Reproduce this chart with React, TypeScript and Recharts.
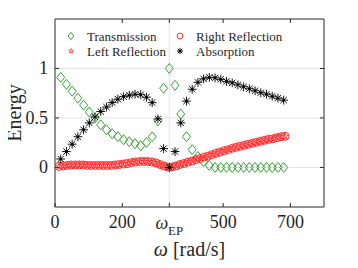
import React from 'react';
import { ScatterChart, Scatter, XAxis, YAxis, ReferenceLine, ReferenceArea } from 'recharts';

const omega = [17, 34, 51, 68, 85, 102, 119, 136, 153, 170, 187, 204, 221, 238, 255, 272, 289, 306, 323, 340, 357, 374, 391, 408, 425, 442, 459, 476, 493, 510, 527, 544, 561, 578, 595, 612, 629, 646, 663, 680];
const transmission = [0.91, 0.84, 0.77, 0.70, 0.63, 0.56, 0.50, 0.43, 0.38, 0.34, 0.31, 0.28, 0.26, 0.24, 0.22, 0.25, 0.31, 0.47, 0.80, 1.0, 0.83, 0.54, 0.31, 0.18, 0.11, 0.06, 0.02, 0.0, 0.0, 0.0, 0.0, 0.0, 0.0, 0.0, 0.0, 0.0, 0.0, 0.0, 0.0, 0.0];
const absorption = [0.085, 0.16, 0.235, 0.31, 0.38, 0.45, 0.51, 0.565, 0.61, 0.655, 0.69, 0.715, 0.73, 0.74, 0.735, 0.71, 0.655, 0.49, 0.19, 0.0, 0.16, 0.45, 0.67, 0.79, 0.86, 0.895, 0.91, 0.905, 0.89, 0.87, 0.855, 0.835, 0.815, 0.795, 0.775, 0.755, 0.74, 0.72, 0.70, 0.68];

const omegaR = [12, 24, 36, 48, 60, 72, 84, 96, 108, 120, 132, 144, 156, 168, 180, 192, 204, 216, 228, 240, 252, 264, 276, 288, 300, 312, 324, 336, 348, 360, 372, 384, 396, 408, 420, 432, 444, 456, 468, 480, 492, 504, 516, 528, 540, 552, 564, 576, 588, 600, 612, 624, 636, 648, 660, 672, 684];
const leftReflection = [0.01, 0.015, 0.02, 0.025, 0.025, 0.025, 0.025, 0.02, 0.02, 0.02, 0.02, 0.02, 0.02, 0.02, 0.025, 0.03, 0.035, 0.04, 0.05, 0.055, 0.06, 0.06, 0.06, 0.055, 0.045, 0.03, 0.015, 0.003, 0.005, 0.015, 0.03, 0.04, 0.055, 0.065, 0.08, 0.09, 0.105, 0.115, 0.13, 0.145, 0.155, 0.17, 0.18, 0.195, 0.205, 0.215, 0.225, 0.235, 0.245, 0.255, 0.265, 0.275, 0.285, 0.29, 0.30, 0.31, 0.315];
const rightReflection = [0.01, 0.015, 0.02, 0.025, 0.025, 0.025, 0.025, 0.02, 0.02, 0.02, 0.02, 0.02, 0.02, 0.02, 0.025, 0.03, 0.035, 0.04, 0.05, 0.055, 0.06, 0.06, 0.06, 0.055, 0.045, 0.03, 0.015, 0.003, 0.005, 0.015, 0.03, 0.04, 0.055, 0.065, 0.08, 0.09, 0.105, 0.115, 0.13, 0.145, 0.155, 0.17, 0.18, 0.195, 0.205, 0.215, 0.225, 0.235, 0.245, 0.255, 0.265, 0.275, 0.285, 0.29, 0.30, 0.31, 0.315];

const xTicks = [0, 200, 340, 500, 700];
const yTicks = [0, 0.5, 1];
const xDomain = [0, 800];
const yDomain = [-0.4, 1.5];
const EP = 340;
const seriesNames = ['Transmission', 'Left Reflection', 'Right Reflection', 'Absorption'];

const FONT = "'Liberation Serif', 'Times New Roman', serif";
const AX = '#262626';
const GREEN = '#35a035';
const RED = '#ff2a2a';
const GRID = '#e3e3e3';

const mk = (xs: number[], vals: number[]) => xs.map((w, i) => ({ w, v: vals[i] }));

const Diamond = (p: any) => {
  const { cx, cy } = p;
  const a = p.s ?? 1;
  return <path d={`M${cx},${cy - 5 * a}L${cx + 4 * a},${cy}L${cx},${cy + 5 * a}L${cx - 4 * a},${cy}Z`} fill="none" stroke={GREEN} strokeWidth={1} />;
};
const Ring = (p: any) => <circle cx={p.cx} cy={p.cy} r={4 * (p.s ?? 1)} fill="none" stroke={RED} strokeWidth={1} />;
const Star = (p: any) => {
  const { cx, cy } = p;
  const a = p.s ?? 1;
  const pts: string[] = [];
  for (let i = 0; i < 10; i++) {
    const r = (i % 2 === 0 ? 3.4 : 1.4) * a;
    const t = -Math.PI / 2 + (i * Math.PI) / 5;
    pts.push(`${cx + r * Math.cos(t)},${cy + r * Math.sin(t)}`);
  }
  return <polygon points={pts.join(' ')} fill="none" stroke={RED} strokeWidth={0.8} />;
};
const Aster = (p: any) => {
  const { cx, cy } = p;
  const r = 4.4 * (p.s ?? 1);
  const d = r * 0.72;
  return (
    <g stroke="#111" strokeWidth={1}>
      <line x1={cx - r} y1={cy} x2={cx + r} y2={cy} />
      <line x1={cx} y1={cy - r} x2={cx} y2={cy + r} />
      <line x1={cx - d} y1={cy - d} x2={cx + d} y2={cy + d} />
      <line x1={cx - d} y1={cy + d} x2={cx + d} y2={cy - d} />
      <circle cx={cx} cy={cy} r={1.3} fill="#000" stroke="none" />
    </g>
  );
};

const txt = (size: number, italic = false): React.CSSProperties => ({ fontFamily: FONT, fontSize: size, fontStyle: italic ? 'italic' : 'normal' });

const BottomTick = (props: any) => {
  const { x, y, payload } = props;
  const v = payload.value;
  return (
    <g>
      <line x1={x} x2={x} y1={y} y2={y - 4} stroke={AX} />
      {v === EP ? (
        <text x={x} y={y + 22} textAnchor="middle" style={txt(18)} fill={AX}>
          <tspan style={txt(18, true)}>ω</tspan>
          <tspan style={txt(13)} dy={6}>EP</tspan>
        </text>
      ) : (
        <text x={x} y={y + 21} textAnchor="middle" style={txt(18)} fill={AX}>{v}</text>
      )}
    </g>
  );
};
const LeftTick = (props: any) => {
  const { x, y, payload } = props;
  return (
    <g>
      <line x1={x} x2={x + 4} y1={y} y2={y} stroke={AX} />
      <text x={x - 7} y={y + 6} textAnchor="end" style={txt(18)} fill={AX}>{payload.value}</text>
    </g>
  );
};

const XLabel = (props: any) => {
  const vb = props.viewBox || {};
  return (
    <text x={vb.x + vb.width / 2} y={vb.y + 49} textAnchor="middle" style={txt(20)} fill={AX}>
      <tspan style={txt(20, true)}>ω</tspan>
      <tspan style={txt(20)}> [rad/s]</tspan>
    </text>
  );
};
const YLabel = (props: any) => {
  const vb = props.viewBox || {};
  const cy = vb.y + vb.height / 2;
  return (
    <text transform={`translate(21, ${cy}) rotate(-90)`} x={0} y={0} textAnchor="middle" style={txt(20)} fill={AX}>Energy</text>
  );
};

const LegendOverlay = () => {
  const rows = [
    { x: 71, y: 36, name: seriesNames[0], M: Diamond },
    { x: 71, y: 51, name: seriesNames[1], M: Star },
    { x: 180, y: 36, name: seriesNames[2], M: Ring },
    { x: 180, y: 51, name: seriesNames[3], M: Aster },
  ];
  return (
    <svg width={358} height={70} style={{ position: 'absolute', left: 0, top: 0, pointerEvents: 'none' }}>
      {rows.map((r) => (
        <g key={r.name}>
          <r.M cx={r.x} cy={r.y} s={0.72} />
          <text x={r.x + 16} y={r.y + 4.5} style={txt(13)} fill={AX}>{r.name}</text>
        </g>
      ))}
    </svg>
  );
};

const TICK_Y = 0.04; // inward tick length in y units
const TICK_X = 12; // inward tick length in x units

export default function App() {
  return (
    <div style={{ position: 'relative', width: 358, height: 268, margin: -8 }}>
      <ScatterChart width={358} height={268} margin={{ top: 19, right: 34, bottom: 31, left: 25 }}>
        <XAxis xAxisId="b" type="number" dataKey="w" domain={xDomain} ticks={xTicks} interval={0} tick={<BottomTick />} tickLine={false} tickSize={0} tickMargin={0} axisLine={false} height={30} allowDataOverflow label={<XLabel />} />
        <YAxis yAxisId="l" type="number" dataKey="v" domain={yDomain} ticks={yTicks} interval={0} tick={<LeftTick />} tickLine={false} tickSize={0} tickMargin={0} axisLine={false} width={30} allowDataOverflow label={<YLabel />} />
        {yTicks.map((t) => (
          <ReferenceLine key={'g' + t} xAxisId="b" yAxisId="l" y={t} stroke={GRID} strokeWidth={1} />
        ))}
        <ReferenceLine xAxisId="b" yAxisId="l" x={EP} stroke={GRID} strokeWidth={1} />
        {xTicks.slice(1).map((t) => (
          <ReferenceLine key={'tt' + t} xAxisId="b" yAxisId="l" segment={[{ x: t, y: yDomain[1] }, { x: t, y: yDomain[1] - TICK_Y }]} stroke={AX} strokeWidth={1} />
        ))}
        {yTicks.map((t) => (
          <ReferenceLine key={'rt' + t} xAxisId="b" yAxisId="l" segment={[{ x: xDomain[1], y: t }, { x: xDomain[1] - TICK_X, y: t }]} stroke={AX} strokeWidth={1} />
        ))}
        <ReferenceArea xAxisId="b" yAxisId="l" x1={xDomain[0]} x2={xDomain[1]} y1={yDomain[0]} y2={yDomain[1]} fill="none" fillOpacity={0} stroke={AX} strokeWidth={1} strokeOpacity={1} />
        <Scatter name={seriesNames[0]} xAxisId="b" yAxisId="l" data={mk(omega, transmission)} dataKey="v" shape={<Diamond />} isAnimationActive={false} />
        <Scatter name={seriesNames[1]} xAxisId="b" yAxisId="l" data={mk(omegaR, leftReflection)} dataKey="v" shape={<Star />} isAnimationActive={false} />
        <Scatter name={seriesNames[2]} xAxisId="b" yAxisId="l" data={mk(omegaR, rightReflection)} dataKey="v" shape={<Ring />} isAnimationActive={false} />
        <Scatter name={seriesNames[3]} xAxisId="b" yAxisId="l" data={mk(omega, absorption)} dataKey="v" shape={<Aster />} isAnimationActive={false} />
      </ScatterChart>
      <LegendOverlay />
    </div>
  );
}
